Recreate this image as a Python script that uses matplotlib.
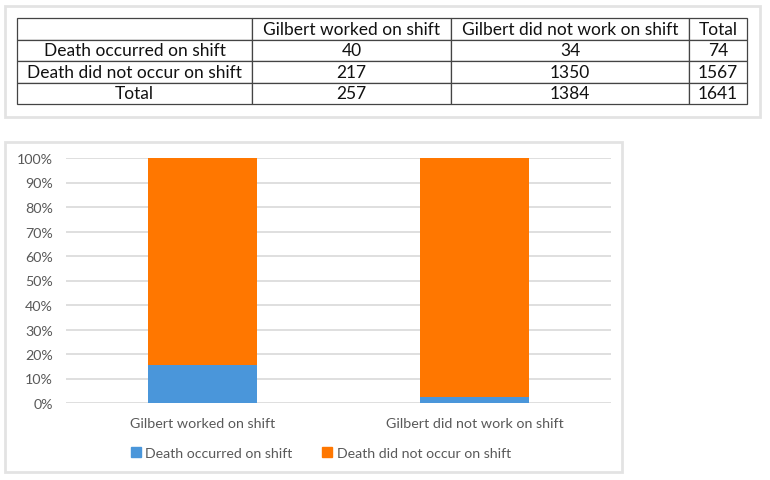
import matplotlib
matplotlib.use("Agg")
import matplotlib.pyplot as plt
from matplotlib.patches import Rectangle, Patch
from matplotlib.ticker import PercentFormatter

# data
row_labels = ["Death occurred on shift", "Death did not occur on shift"]
col_labels = ["Gilbert worked on shift", "Gilbert did not work on shift"]
worked = [40, 217]
not_worked = [34, 1350]

blue = "#4A96DA"
orange = "#FF7700"
grey_txt = "#595959"

plt.rcParams["font.family"] = ["Lato", "DejaVu Sans"]

W, H = 770, 481
fig = plt.figure(figsize=(W / 100, H / 100), dpi=100)


def px_axes(x0, y0, x1, y1):
    """ axes from pixel box (top-left origin) """
    return fig.add_axes([x0 / W, 1 - y1 / H, (x1 - x0) / W, (y1 - y0) / H])


def frame(x0, y0, x1, y1):
    fig.patches.append(Rectangle((x0 / W, 1 - y1 / H), (x1 - x0) / W, (y1 - y0) / H,
                                 transform=fig.transFigure, fill=False,
                                 edgecolor="#E3E3E3", linewidth=2))


# ---- table ----
frame(5, 7, 760, 118)
tax = px_axes(17, 19, 747, 105)
tax.axis("off")
tot_worked = sum(worked)
tot_not = sum(not_worked)
cells = [[""] + col_labels + ["Total"]]
for i, lab in enumerate(row_labels):
    cells.append([lab, str(worked[i]), str(not_worked[i]), str(worked[i] + not_worked[i])])
cells.append(["Total", str(tot_worked), str(tot_not), str(tot_worked + tot_not)])
widths = [235, 199, 238, 58]
tbl = tax.table(cellText=cells, colWidths=[w / sum(widths) for w in widths],
                cellLoc="center", bbox=[0, 0, 1, 1])
tbl.auto_set_font_size(False)
for (r, c), cell in tbl.get_celld().items():
    cell.set_fontsize(12.5)
    cell.set_edgecolor("#444444")
    cell.set_linewidth(0.9)
    cell.get_text().set_color("#111111")

# ---- chart ----
frame(5, 143, 622, 473)
ax = px_axes(66, 159, 611, 404)
pct_occ = [worked[0] / tot_worked * 100, not_worked[0] / tot_not * 100]
pct_not = [worked[1] / tot_worked * 100, not_worked[1] / tot_not * 100]
x = range(len(col_labels))
ax.bar(x, pct_occ, width=0.4, color=blue, zorder=3)
ax.bar(x, pct_not, width=0.4, bottom=pct_occ, color=orange, zorder=3)
ax.set_xlim(-0.5, 1.5)
ax.set_ylim(0, 100)
ax.set_yticks(range(0, 101, 10))
ax.yaxis.set_major_formatter(PercentFormatter(decimals=0))
ax.set_xticks(list(x))
ax.set_xticklabels(col_labels)
ax.tick_params(length=0, labelsize=10.3, labelcolor=grey_txt)
ax.tick_params(axis="y", pad=9.5)
ax.tick_params(axis="x", pad=10)
ax.grid(axis="y", color="#D9D9D9", linewidth=1.2, zorder=0)
for s in ax.spines.values():
    s.set_visible(False)

handles = [Patch(color=blue, label=row_labels[0]), Patch(color=orange, label=row_labels[1])]
fig.legend(handles=handles, loc="center", bbox_to_anchor=(321 / W, 1 - 454 / H), ncol=2,
           frameon=False, fontsize=10.2, labelcolor=grey_txt, handlelength=0.7,
           handleheight=0.7, handletextpad=0.3, columnspacing=2.1)

fig.savefig("out.png", dpi=100)
